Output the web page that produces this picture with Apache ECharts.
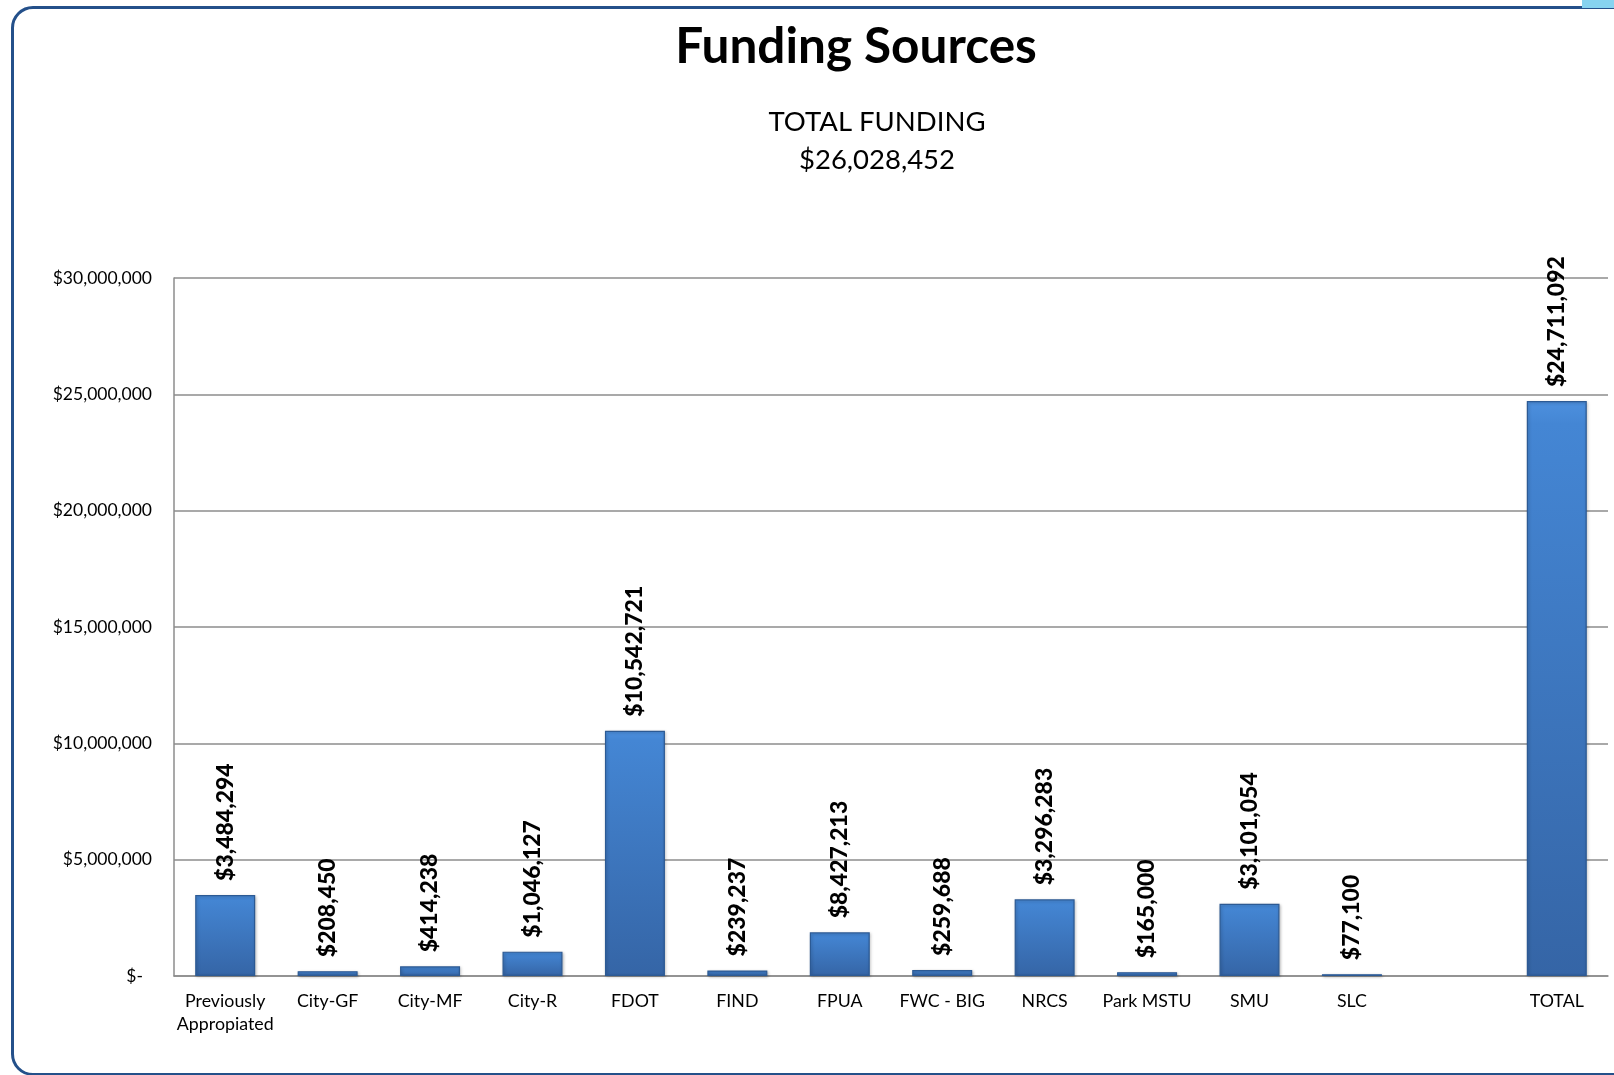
<!DOCTYPE html>
<html>
<head>
<meta charset="utf-8">
<script src="https://cdn.jsdelivr.net/npm/echarts@6/dist/echarts.min.js"></script>
<style>
  html, body { margin: 0; padding: 0; background: #ffffff; }
  #frame { position: absolute; left: 11px; top: 6px; width: 1640px; height: 1064px;
           border: 3px solid #24508a; border-radius: 22px; box-sizing: content-box; }
  #deco { position: absolute; right: 0; top: 0; width: 32px; height: 8px; background: #86d3f0; }
  #chart { position: absolute; left: 0; top: 0; width: 1614px; height: 1075px; }
</style>
</head>
<body>
<div id="frame"></div>
<div id="deco"></div>
<div id="chart"></div>
<script>
// Categories (blank slot between SLC and TOTAL as in the reference)
var categories = ['Previously\nAppropiated', 'City-GF', 'City-MF', 'City-R', 'FDOT', 'FIND', 'FPUA',
                  'FWC - BIG', 'NRCS', 'Park MSTU', 'SMU', 'SLC', '', 'TOTAL'];
// Bar heights as drawn in the picture
var barValues = [3484294, 208450, 414238, 1046127, 10542721, 239237, 1876900,
                 259688, 3296283, 165000, 3101054, 77100, null, 24711092];
// Numbers printed in the data labels
var labelValues = [3484294, 208450, 414238, 1046127, 10542721, 239237, 8427213,
                   259688, 3296283, 165000, 3101054, 77100, null, 24711092];
var titleText = 'Funding Sources';
var subtitleLines = ['TOTAL FUNDING', '$26,028,452'];
var yMin = 0, yMax = 30000000, yInterval = 5000000;

function money(v) {
  return '$' + Math.round(v).toString().replace(/\B(?=(\d{3})+(?!\d))/g, ',');
}

var chart = echarts.init(document.getElementById('chart'));
chart.setOption({
  animation: false,
  textStyle: { fontFamily: 'Lato' },
  title: [
    { text: titleText, left: 851, top: 17, textAlign: 'center',
      textStyle: { fontFamily: 'Lato', fontWeight: 'bold', fontSize: 49.5, color: '#000' } },
    { text: subtitleLines.join('\n'), left: 872, top: 98, textAlign: 'center',
      textStyle: { fontFamily: 'Lato', fontWeight: 'normal', fontSize: 27.5, lineHeight: 38, color: '#000' } }
  ],
  grid: { left: 174, right: 6, top: 278, bottom: 99, containLabel: false },
  xAxis: {
    type: 'category',
    data: categories,
    axisTick: { show: false },
    axisLine: { lineStyle: { color: '#8c8c8c', width: 1.5 } },
    axisLabel: { interval: 0, margin: 14, fontSize: 17.8, lineHeight: 23, color: '#000', fontFamily: 'Lato' }
  },
  yAxis: {
    type: 'value',
    min: yMin, max: yMax, interval: yInterval,
    axisLine: { show: true, lineStyle: { color: '#8c8c8c', width: 1.5 } },
    axisTick: { show: false },
    splitLine: { lineStyle: { color: '#8c8c8c', width: 1.5 } },
    axisLabel: {
      margin: 22, fontSize: 17.5, color: '#000', fontFamily: 'Lato',
      formatter: function (v) { return v === 0 ? '{z|$-}' : money(v); },
      rich: { z: { fontSize: 17.5, fontFamily: 'Lato', color: '#000', padding: [0, 9, 0, 0] } }
    }
  },
  series: [{
    type: 'bar',
    data: barValues,
    barWidth: 60,
    itemStyle: {
      color: {
        type: 'linear', x: 0, y: 0, x2: 0, y2: 1,
        colorStops: [
          { offset: 0, color: '#4d90de' },
          { offset: 0.04, color: '#4486d4' },
          { offset: 1, color: '#3565a6' }
        ]
      },
      borderColor: '#2c5a94',
      borderWidth: 1.2,
      shadowColor: 'rgba(0,0,0,0.25)',
      shadowBlur: 3,
      shadowOffsetX: 1,
      shadowOffsetY: 1
    },
    label: {
      show: true,
      position: 'top',
      rotate: 90,
      align: 'left',
      verticalAlign: 'middle',
      distance: 14,
      fontFamily: 'Lato',
      fontWeight: 900,
      fontSize: 23,
      color: '#000',
      formatter: function (p) {
        var v = labelValues[p.dataIndex];
        return v == null ? '' : money(v);
      }
    }
  }]
});
</script>
</body>
</html>
